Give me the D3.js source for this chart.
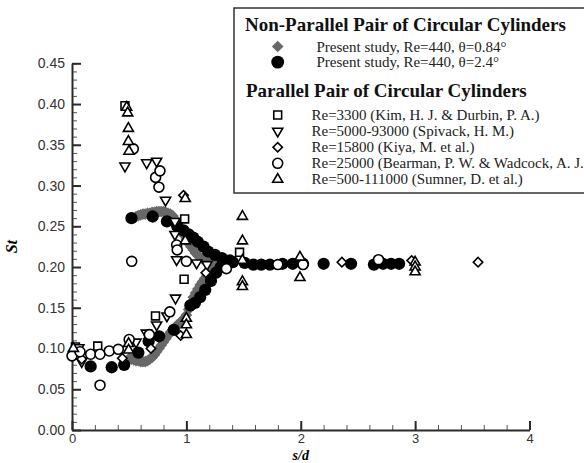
<!DOCTYPE html>
<html>
<head>
<meta charset="utf-8">
<script src="https://cdn.jsdelivr.net/npm/d3@7"></script>
<style>
  html, body { margin: 0; padding: 0; background: #fff; }
  svg { display: block; }
</style>
</head>
<body>
<svg id="chart" width="584" height="463"></svg>
<script>
// Strouhal number St versus gap ratio s/d, pairs of circular cylinders.
// Each point is [s/d, St].

// Present study, non-parallel pair, theta = 0.84 deg (upper and lower branch)
const presentTheta084 = [
  [0.56,0.262],[0.58,0.263],[0.60,0.264],[0.62,0.265],[0.64,0.265],[0.66,0.266],[0.68,0.266],
  [0.70,0.267],[0.72,0.267],[0.74,0.268],[0.76,0.268],[0.78,0.268],[0.80,0.268],[0.82,0.267],
  [0.84,0.266],[0.86,0.265],[0.88,0.263],[0.90,0.259],[0.92,0.254],[0.94,0.249],[0.96,0.244],
  [0.98,0.239],[1.00,0.234],[1.02,0.229],[1.04,0.225],[1.06,0.221],[1.08,0.217],[1.10,0.214],
  [1.12,0.212],[1.14,0.210],[1.16,0.209],[1.18,0.208],[1.20,0.207],[1.23,0.206],[1.26,0.205],
  [1.29,0.205],[1.32,0.205],
  [0.50,0.088],[0.52,0.087],[0.54,0.086],[0.56,0.085],[0.58,0.085],[0.60,0.084],[0.62,0.084],
  [0.64,0.084],[0.66,0.085],[0.68,0.087],[0.70,0.089],[0.72,0.092],[0.74,0.096],[0.76,0.100],
  [0.78,0.104],[0.80,0.108],[0.82,0.112],[0.84,0.116],[0.86,0.120],[0.88,0.123],[0.90,0.126],
  [0.92,0.129],[0.94,0.131],[0.96,0.134],[0.98,0.137],[1.00,0.141],[1.02,0.148],[1.04,0.156],
  [1.06,0.163],[1.08,0.168],[1.10,0.173],[1.12,0.178],[1.14,0.182],[1.16,0.186],[1.18,0.190],
  [1.20,0.194],[1.22,0.198],[1.24,0.201],[1.26,0.203]
];

// Present study, non-parallel pair, theta = 2.4 deg
const presentTheta24 = [
  [0.163,0.078],[0.347,0.077],[0.456,0.080],[0.58,0.095],[0.67,0.109],[0.762,0.115],[0.89,0.123],
  [1.035,0.153],[1.075,0.156],[1.12,0.163],[1.165,0.172],[1.215,0.183],[1.26,0.193],[1.30,0.200],
  [0.52,0.260],[0.705,0.262],[0.83,0.256],[0.92,0.250],[0.975,0.245],[1.02,0.240],[1.06,0.236],
  [1.10,0.231],[1.15,0.225],[1.19,0.219],[1.25,0.215],[1.31,0.211],[1.38,0.208],
  [1.405,0.206],[1.51,0.205],[1.585,0.203],[1.655,0.203],[1.73,0.203],[1.84,0.204],[1.93,0.204],
  [2.02,0.204],[2.20,0.204],[2.44,0.204],[2.64,0.203],[2.72,0.204],[2.79,0.204],[2.86,0.204]
];

// Parallel pairs, published data
const kimDurbin = [
  [0.03,0.102],[0.225,0.103],[0.463,0.398],[0.73,0.140],[0.98,0.185],[0.985,0.259],[1.465,0.218]
];
const spivack = [
  [0.06,0.101],[0.085,0.084],[0.463,0.324],[0.56,0.108],[0.65,0.119],[0.653,0.328],[0.740,0.330],
  [0.74,0.129],[0.818,0.282],[0.83,0.140],[0.90,0.256],[0.90,0.240],[0.905,0.162],[0.915,0.209],
  [1.09,0.205],[1.18,0.203]
];
const kiya = [
  [0.012,0.092],[0.085,0.087],[0.44,0.088],[0.69,0.100],[0.95,0.116],[0.975,0.288],[1.17,0.193],
  [2.0,0.209],[2.36,0.206],[2.97,0.208],[3.55,0.206]
];
const bearmanWadcock = [
  [0.0,0.091],[0.07,0.096],[0.163,0.093],[0.245,0.093],[0.245,0.055],[0.326,0.097],[0.405,0.099],
  [0.50,0.111],[0.522,0.207],[0.536,0.345],[0.676,0.117],[0.731,0.310],[0.76,0.298],[0.769,0.318],
  [0.855,0.145],[0.915,0.227],[0.92,0.221],[1.0,0.207],[1.35,0.198],[1.80,0.203],[2.02,0.203],
  [2.68,0.209]
];
const sumner = [
  [0.012,0.100],[0.495,0.106],[0.495,0.098],[0.478,0.396],[0.487,0.389],[0.493,0.370],[0.493,0.354],
  [0.498,0.342],[0.99,0.284],[0.99,0.232],[1.0,0.137],[1.0,0.129],[1.0,0.117],[1.49,0.262],
  [1.49,0.232],[1.49,0.208],[1.49,0.182],[1.49,0.176],[1.993,0.212],[1.993,0.187],[3.0,0.206],
  [3.0,0.200],[3.0,0.194]
];

// Axis ticks
const xTicks = [0, 1, 2, 3, 4];
const xMinorTicks = d3.range(0, 4.0001, 0.2);
const yTicks = [0, 0.05, 0.10, 0.15, 0.20, 0.25, 0.30, 0.35, 0.40, 0.45];
const yMinorTicks = d3.range(0, 0.4501, 0.01);

// Legend text
const legendTitleNonParallel = "Non-Parallel Pair of Circular Cylinders";
const legendTitleParallel = "Parallel Pair of Circular Cylinders";
const legendNonParallel = ["Present study, Re=440, \u03b8=0.84\u00b0", "Present study, Re=440, \u03b8=2.4\u00b0"];
const legendParallel = [
  "Re=3300 (Kim, H. J. & Durbin, P. A.)",
  "Re=5000-93000 (Spivack, H. M.)",
  "Re=15800 (Kiya, M. et al.)",
  "Re=25000 (Bearman, P. W. & Wadcock, A. J.)",
  "Re=500-111000 (Sumner, D. et al.)"
];

const svg = d3.select("#chart");
const x = d3.scaleLinear().domain([0, 4]).range([72, 529.5]);
const y = d3.scaleLinear().domain([0, 0.45]).range([430, 63.3]);

const axisColor = "#2a2a2a";
const serif = "'Liberation Serif', 'Times New Roman', serif";
const sans = "'Liberation Sans', Arial, sans-serif";

// Minor ticks (inside)
svg.append("g").attr("transform", `translate(0,${y(0)})`)
  .call(d3.axisBottom(x).tickValues(xMinorTicks).tickSize(-5).tickSizeOuter(0).tickFormat(""))
  .call(g => g.select(".domain").remove())
  .call(g => g.selectAll("line").attr("stroke", "#555").attr("stroke-width", 1));
svg.append("g").attr("transform", `translate(${x(0)},0)`)
  .call(d3.axisLeft(y).tickValues(yMinorTicks).tickSize(-5).tickSizeOuter(0).tickFormat(""))
  .call(g => g.select(".domain").remove())
  .call(g => g.selectAll("line").attr("stroke", "#555").attr("stroke-width", 1));

// Major ticks with labels
const xAxis = svg.append("g").attr("transform", `translate(0,${y(0)})`)
  .call(d3.axisBottom(x).tickValues(xTicks).tickSize(-9).tickSizeOuter(0).tickPadding(4).tickFormat(d3.format("d")));
const yAxis = svg.append("g").attr("transform", `translate(${x(0)},0)`)
  .call(d3.axisLeft(y).tickValues(yTicks).tickSize(-9).tickSizeOuter(0).tickPadding(7).tickFormat(d3.format(".2f")));
[xAxis, yAxis].forEach(g => {
  g.select(".domain").attr("stroke", axisColor).attr("stroke-width", 2);
  g.selectAll(".tick line").attr("stroke", axisColor).attr("stroke-width", 2);
  g.selectAll(".tick text").attr("fill", "#333").style("font-family", sans).style("font-size", "14px");
});
xAxis.selectAll(".tick text").style("font-size", "13px");

// Axis titles
svg.append("text")
  .attr("x", x(2)).attr("y", 460)
  .attr("text-anchor", "middle")
  .style("font-family", serif).style("font-size", "14px")
  .style("font-weight", "bold").style("font-style", "italic")
  .text("s/d");
svg.append("text")
  .attr("transform", `translate(17,${y(0.225)}) rotate(-90)`)
  .attr("text-anchor", "middle")
  .style("font-family", serif).style("font-size", "16px")
  .style("font-weight", "bold").style("font-style", "italic")
  .text("St");

// Marker shapes
const sym = {
  square: d3.symbol().type(d3.symbolSquare).size(62),
  triangle: d3.symbol().type(d3.symbolTriangle).size(44),
  diamond: d3.symbol().type(d3.symbolSquare).size(44),
  circle: d3.symbol().type(d3.symbolCircle).size(78),
  grayDiamond: d3.symbol().type(d3.symbolSquare).size(68),
  blackCircle: d3.symbol().type(d3.symbolCircle).size(118)
};

function drawSeries(data, shape, rotate, fill, stroke, strokeWidth) {
  svg.append("g").selectAll("path").data(data).join("path")
    .attr("d", shape)
    .attr("transform", d => `translate(${x(d[0])},${y(d[1])}) rotate(${rotate})`)
    .attr("fill", fill)
    .attr("stroke", stroke)
    .attr("stroke-width", strokeWidth);
}

drawSeries(presentTheta084, sym.grayDiamond(), 45, "#686868", "none", 0);
drawSeries(presentTheta24, sym.blackCircle(), 0, "#000", "none", 0);
drawSeries(kimDurbin, sym.square(), 0, "#fff", "#000", 1.6);
drawSeries(spivack, sym.triangle(), 180, "#fff", "#000", 1.6);
drawSeries(kiya, sym.diamond(), 45, "#fff", "#000", 1.6);
drawSeries(bearmanWadcock, sym.circle(), 0, "#fff", "#000", 1.6);
drawSeries(sumner, sym.triangle(), 0, "#fff", "#000", 1.6);

// Legend
const lg = svg.append("g");
lg.append("rect")
  .attr("x", 234).attr("y", 8).attr("width", 400).attr("height", 185)
  .attr("fill", "#fff").attr("stroke", "#333").attr("stroke-width", 1.5);

lg.append("text").attr("x", 245).attr("y", 30.5)
  .style("font-family", serif).style("font-size", "19px").style("font-weight", "bold")
  .attr("fill", "#111").text(legendTitleNonParallel);
lg.append("text").attr("x", 246).attr("y", 96.5)
  .style("font-family", serif).style("font-size", "19px").style("font-weight", "bold")
  .attr("fill", "#111").text(legendTitleParallel);

const npRows = [
  { shape: sym.grayDiamond(), rot: 45, fill: "#686868", scale: 1.0 },
  { shape: sym.blackCircle(), rot: 0, fill: "#000", scale: 1.05 }
];
legendNonParallel.forEach((label, i) => {
  const cy = 46.5 + i * 15.6;
  const r = npRows[i];
  lg.append("path").attr("d", r.shape)
    .attr("transform", `translate(277.7,${cy}) rotate(${r.rot}) scale(${r.scale})`)
    .attr("fill", r.fill);
  lg.append("text").attr("x", 316.5).attr("y", cy + 5)
    .style("font-family", serif).style("font-size", "15px")
    .attr("fill", "#222").text(label);
});

const pRows = [
  { shape: sym.square(), rot: 0 },
  { shape: sym.triangle(), rot: 180 },
  { shape: sym.diamond(), rot: 45 },
  { shape: sym.circle(), rot: 0 },
  { shape: sym.triangle(), rot: 0 }
];
legendParallel.forEach((label, i) => {
  const cy = 115 + i * 16.1;
  const r = pRows[i];
  lg.append("path").attr("d", r.shape)
    .attr("transform", `translate(277.7,${cy}) rotate(${r.rot})`)
    .attr("fill", "#fff").attr("stroke", "#000").attr("stroke-width", 1.6);
  lg.append("text").attr("x", 311.5).attr("y", cy + 5)
    .style("font-family", serif).style("font-size", "15px")
    .attr("fill", "#222").text(label);
});
</script>
</body>
</html>
